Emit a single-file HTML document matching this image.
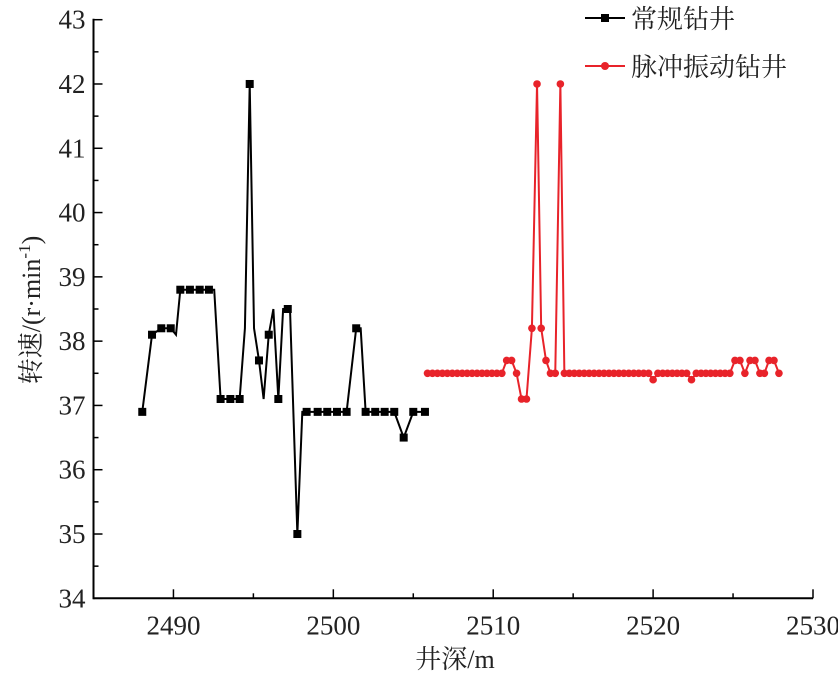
<!DOCTYPE html>
<html><head><meta charset="utf-8"><style>
body{margin:0;background:#fff}
svg text{font-family:"Liberation Serif","Noto Serif CJK SC",serif;fill:#222}
</style></head><body>
<svg id="chart" width="838" height="675" xmlns="http://www.w3.org/2000/svg">
<g id="axes"></g>
<g id="series"></g>
<g>
 <line x1="585" y1="18" x2="625" y2="18" stroke="#000" stroke-width="2"/>
 <rect x="601" y="14" width="8" height="8" fill="#000"/>
 <text x="631" y="28" font-size="26">常规钻井</text>
 <line x1="585" y1="66" x2="625" y2="66" stroke="#e8232a" stroke-width="2"/>
 <circle cx="605" cy="66" r="4" fill="#e8232a"/>
 <text x="631" y="76" font-size="26">脉冲振动钻井</text>
</g>
<text x="455" y="668" font-size="26" text-anchor="middle">井深/m</text>
<text transform="translate(40,310) rotate(-90)" font-size="26" text-anchor="middle">转速/(r·min<tspan dy="-10" font-size="17">-1</tspan><tspan dy="10">)</tspan></text>
</svg>
<script>
const xTicks=[2490,2500,2510,2520,2530];
const yTicks=[34,35,36,37,38,39,40,41,42,43];
const convX=[2488.05,2488.66,2489.24,2489.83,2490.16,2490.43,2491.03,2491.64,2492.22,2492.55,2492.95,2493.56,2494.14,2494.47,2494.77,2495.04,2495.35,2495.64,2495.96,2496.25,2496.56,2496.86,2497.15,2497.29,2497.75,2498.06,2498.33,2499.02,2499.62,2500.23,2500.83,2501.43,2501.71,2502.02,2502.62,2503.21,2503.81,2504.40,2505.0,2505.73];
const convY=[36.9,38.1,38.2,38.2,38.1,38.8,38.8,38.8,38.8,38.8,37.1,37.1,37.1,38.2,42,38.2,37.7,37.1,38.1,38.5,37.1,38.5,38.5,38.5,35,36.9,36.9,36.9,36.9,36.9,36.9,38.2,38.2,36.9,36.9,36.9,36.9,36.5,36.9,36.9];
const convMarked=[1,1,1,1,0,1,1,1,1,0,1,1,1,0,1,0,1,0,1,0,1,0,1,0,1,0,1,1,1,1,1,1,0,1,1,1,1,1,1,1];
const pulseX=[2505.89,2506.20,2506.51,2506.82,2507.13,2507.44,2507.75,2508.06,2508.37,2508.68,2508.99,2509.30,2509.61,2509.92,2510.23,2510.54,2510.84,2511.15,2511.46,2511.77,2512.08,2512.42,2512.74,2513.0,2513.3,2513.58,2513.88,2514.2,2514.45,2514.76,2515.07,2515.38,2515.69,2516.0,2516.31,2516.62,2516.93,2517.24,2517.55,2517.86,2518.17,2518.48,2518.79,2519.1,2519.41,2519.72,2520.0,2520.3,2520.6,2520.9,2521.2,2521.5,2521.8,2522.1,2522.4,2522.7,2523.0,2523.3,2523.6,2523.9,2524.2,2524.5,2524.8,2525.12,2525.43,2525.74,2526.06,2526.37,2526.68,2526.96,2527.25,2527.56,2527.87];
const pulseY=[37.5,37.5,37.5,37.5,37.5,37.5,37.5,37.5,37.5,37.5,37.5,37.5,37.5,37.5,37.5,37.5,37.7,37.7,37.5,37.1,37.1,38.2,42,38.2,37.7,37.5,37.5,42,37.5,37.5,37.5,37.5,37.5,37.5,37.5,37.5,37.5,37.5,37.5,37.5,37.5,37.5,37.5,37.5,37.5,37.5,37.4,37.5,37.5,37.5,37.5,37.5,37.5,37.5,37.4,37.5,37.5,37.5,37.5,37.5,37.5,37.5,37.5,37.7,37.7,37.5,37.7,37.7,37.5,37.5,37.7,37.7,37.5];

const X0=93.5,X1=813,XMIN=2485,XMAX=2530,Y0=598.3,Y1=19.7,YMIN=34,YMAX=43;
const sx=v=>X0+(v-XMIN)/(XMAX-XMIN)*(X1-X0);
const sy=v=>Y0-(v-YMIN)/(YMAX-YMIN)*(Y0-Y1);
const NS="http://www.w3.org/2000/svg";
const axes=document.getElementById('axes'),series=document.getElementById('series');
function mk(tag,attrs,parent){const e=document.createElementNS(NS,tag);for(const k in attrs)e.setAttribute(k,attrs[k]);parent.appendChild(e);return e;}

let a=mk('line',{x1:X0,y1:Y0,x2:X1,y2:Y0,stroke:'#000','stroke-width':2},axes);


a=mk('line',{x1:X0,y1:Y0+1,x2:X0,y2:Y1-1,stroke:'#000','stroke-width':2},axes);


for(let v=2485;v<=2530;v+=5){
  const major=xTicks.includes(v);
  const t=mk('line',{x1:sx(v),x2:sx(v),y1:Y0,y2:Y0-(major?9:5),stroke:'#000','stroke-width':1.5},axes);
  
  
}
xTicks.forEach(v=>{const t=mk('text',{x:sx(v),y:Y0+36,'font-size':27,'text-anchor':'middle'},axes);t.textContent=v;
  
  });
for(let v=34;v<=43;v+=0.5){
  const major=Number.isInteger(v);
  const t=mk('line',{x1:X0,x2:X0+(major?9:5),y1:sy(v),y2:sy(v),stroke:'#000','stroke-width':1.5},axes);
  
  
}
yTicks.forEach(v=>{const t=mk('text',{x:X0-8,y:sy(v)+9,'font-size':27,'text-anchor':'end'},axes);t.textContent=v;
  
  });

let p=mk('polyline',{points:convX.map((x,i)=>sx(x)+','+sy(convY[i])).join(' '),fill:'none',stroke:'#000','stroke-width':2},series);


convX.forEach((x,i)=>{if(!convMarked[i])return;
  const r=mk('rect',{x:sx(x)-4,y:sy(convY[i])-4,width:8,height:8,fill:'#000'},series);
  
  });
p=mk('polyline',{points:pulseX.map((x,i)=>sx(x)+','+sy(pulseY[i])).join(' '),fill:'none',stroke:'#e8232a','stroke-width':2},series);


pulseX.forEach((x,i)=>{
  const c=mk('circle',{cx:sx(x),cy:sy(pulseY[i]),r:3.8,fill:'#e8232a'},series);
  
  });
</script>
</body></html>
